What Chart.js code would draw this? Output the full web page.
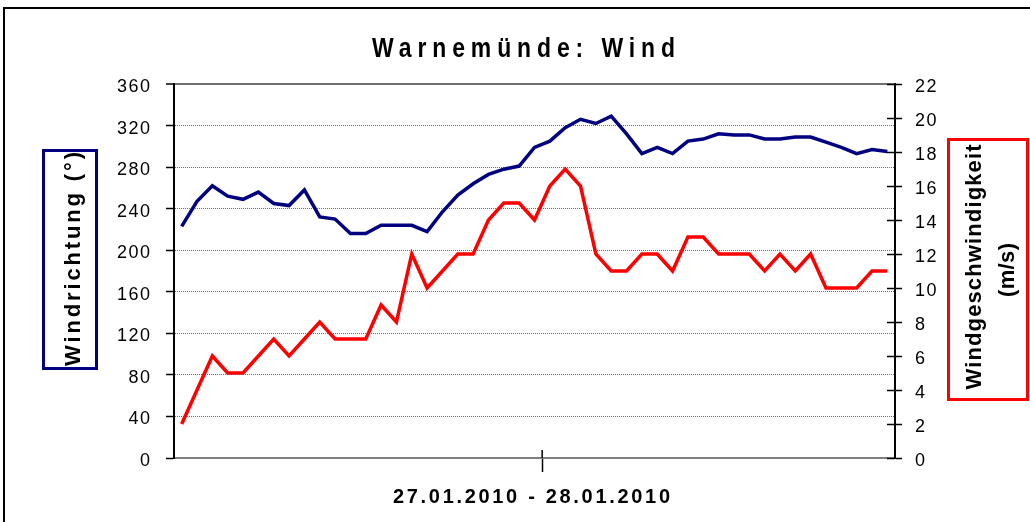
<!DOCTYPE html>
<html>
<head>
<meta charset="utf-8">
<title>Warnemünde: Wind</title>
<script src="https://cdn.jsdelivr.net/npm/chart.js@4.4.1/dist/chart.umd.min.js"></script>
<style>
    html, body { margin: 0; padding: 0; background: #ffffff; }
</style>
</head>
<body>
<canvas id="windChart" width="1030" height="522"></canvas>
<script>
// hourly readings, 27.01.2010 00:00 - 28.01.2010 22:00
const hourLabels = [
    '27.01. 00:00', '27.01. 01:00', '27.01. 02:00', '27.01. 03:00', '27.01. 04:00', '27.01. 05:00',
    '27.01. 06:00', '27.01. 07:00', '27.01. 08:00', '27.01. 09:00', '27.01. 10:00', '27.01. 11:00',
    '27.01. 12:00', '27.01. 13:00', '27.01. 14:00', '27.01. 15:00', '27.01. 16:00', '27.01. 17:00',
    '27.01. 18:00', '27.01. 19:00', '27.01. 20:00', '27.01. 21:00', '27.01. 22:00', '27.01. 23:00',
    '28.01. 00:00', '28.01. 01:00', '28.01. 02:00', '28.01. 03:00', '28.01. 04:00', '28.01. 05:00',
    '28.01. 06:00', '28.01. 07:00', '28.01. 08:00', '28.01. 09:00', '28.01. 10:00', '28.01. 11:00',
    '28.01. 12:00', '28.01. 13:00', '28.01. 14:00', '28.01. 15:00', '28.01. 16:00', '28.01. 17:00',
    '28.01. 18:00', '28.01. 19:00', '28.01. 20:00', '28.01. 21:00', '28.01. 22:00'
];

// Windrichtung in Grad
const directionDeg = [
    223, 247, 262, 252, 249, 256, 245, 243, 258, 232, 230, 216,
    216, 224, 224, 224, 218, 237, 253, 264, 273, 278, 281, 299,
    305, 318, 326, 322, 329, 312, 293, 299, 293, 305, 307, 312,
    311, 311, 307, 307, 309, 309, 304, 299, 293, 297, 295
];

// Windgeschwindigkeit in m/s
const speedMs = [
    2, 4, 6, 5, 5, 6, 7, 6, 7, 8, 7, 7,
    7, 9, 8, 12, 10, 11, 12, 12, 14, 15, 15, 14,
    16, 17, 16, 12, 11, 11, 12, 12, 11, 13, 13, 12,
    12, 12, 11, 12, 11, 12, 10, 10, 10, 11, 11
];

const directionAxis = [0, 360, 40];   // min, max, step
const speedAxis = [0, 22, 2];

const chartTitle = 'Warnemünde: Wind';
const xTitle = '27.01.2010 - 28.01.2010';
const leftTitle = 'Windrichtung (°)';
const rightTitle = ['Windgeschwindigkeit', '(m/s)'];

const dayBreak = hourLabels.findIndex(l => l.startsWith('28.01'));

const fontFamily = '"Liberation Sans", Arial, Helvetica, sans-serif';
Chart.defaults.font.family = fontFamily;
Chart.defaults.color = '#000000';

// text with letter spacing stretched to a given length
function spacedText(ctx, text, x, y, font, width, angle, sx, color) {
    ctx.save();
    ctx.translate(x, y);
    if (angle) ctx.rotate(angle);
    if (sx) ctx.scale(sx, 1);
    ctx.font = font;
    ctx.fillStyle = color || '#000000';
    ctx.letterSpacing = '0px';
    const natural = ctx.measureText(text).width;
    const target = width / (sx || 1);
    const gap = Math.max(0, (target - natural) / (text.length - 1));
    ctx.letterSpacing = gap + 'px';
    ctx.textAlign = 'center';
    ctx.textBaseline = 'alphabetic';
    ctx.fillText(text, gap / 2, 0);
    ctx.restore();
}

const decorations = {
    id: 'decorations',
    beforeDraw(chart) {
        // tick labels are slightly letter-spaced in the original
        chart.ctx.letterSpacing = '1.5px';
    },
    afterDraw(chart) {
        const ctx = chart.ctx;
        const xs = chart.scales.x;
        const yr = chart.scales.y1;

        ctx.save();
        ctx.letterSpacing = '0px';

        // inner halves of the crossing tick marks
        ctx.strokeStyle = '#000000';
        ctx.lineWidth = 1.5;
        yr.ticks.forEach(t => {
            const py = Math.round(yr.getPixelForValue(t.value)) + 0.5;
            ctx.beginPath();
            ctx.moveTo(yr.left - 8, py);
            ctx.lineTo(yr.left, py);
            ctx.stroke();
        });
        const bx = (xs.getPixelForValue(dayBreak - 1) + xs.getPixelForValue(dayBreak)) / 2;
        ctx.beginPath();
        ctx.moveTo(bx, xs.top - 8);
        ctx.lineTo(bx, xs.top);
        ctx.stroke();

        // outer chart frame
        ctx.lineWidth = 2;
        ctx.strokeStyle = '#000000';
        ctx.strokeRect(4, 8, chart.width + 10, chart.height + 10);

        // axis title boxes
        ctx.lineWidth = 3;
        ctx.strokeStyle = '#000080';
        ctx.strokeRect(43.5, 150.5, 53, 218);
        ctx.strokeStyle = '#ff0000';
        ctx.strokeRect(948.5, 139.5, 79, 260);
        ctx.restore();

        spacedText(ctx, chartTitle, 523.5, 57, 'bold 27px ' + fontFamily, 303, 0, 0.85);
        spacedText(ctx, xTitle, 531.5, 503, 'bold 20px ' + fontFamily, 277, 0, 0);
        spacedText(ctx, leftTitle, 80, 259, 'bold 22px ' + fontFamily, 214, -Math.PI / 2, 0);
        spacedText(ctx, rightTitle[0], 981, 267, 'bold 22px ' + fontFamily, 245, -Math.PI / 2, 0);
        spacedText(ctx, rightTitle[1], 1014, 270, 'bold 22px ' + fontFamily, 54, -Math.PI / 2, 0);
    }
};

const ctxWind = document.getElementById('windChart').getContext('2d');

const windChart = new Chart(ctxWind, {
    type: 'line',
    data: {
        labels: hourLabels,
        datasets: [{
            label: 'Windrichtung (°)',
            data: directionDeg,
            yAxisID: 'y',
            borderColor: '#000080',
            borderWidth: 3.5,
            pointRadius: 0,
            tension: 0,
            fill: false
        }, {
            label: 'Windgeschwindigkeit (m/s)',
            data: speedMs,
            yAxisID: 'y1',
            borderColor: '#ff0000',
            borderWidth: 3.5,
            pointRadius: 0,
            tension: 0,
            fill: false
        }]
    },
    options: {
        responsive: false,
        animation: false,
        devicePixelRatio: 1,
        layout: {
            padding: { top: 84, left: 0, right: 0, bottom: 0 }
        },
        scales: {
            x: {
                type: 'category',
                offset: true,
                afterFit: s => { s.height = 64; },
                grid: {
                    display: true,
                    offset: true,
                    drawOnChartArea: false,
                    tickLength: 14,
                    tickWidth: 1.5,
                    tickColor: c => c.index === dayBreak ? '#000000' : 'rgba(0,0,0,0)'
                },
                border: { display: true, color: '#808080', width: 2 },
                ticks: {
                    autoSkip: false,
                    maxRotation: 0,
                    minRotation: 0,
                    callback: () => ''
                }
            },
            y: {
                position: 'left',
                min: directionAxis[0],
                max: directionAxis[1],
                afterFit: s => { s.width = 174; },
                ticks: {
                    stepSize: directionAxis[2],
                    padding: 14.5,
                    labelOffset: 3,
                    color: '#000000',
                    font: { size: 18 }
                },
                grid: {
                    color: c => c.tick && c.tick.value === 0 ? 'rgba(0,0,0,0)' : '#707070',
                    lineWidth: c => c.tick && c.tick.value === directionAxis[1] ? 2 : 1,
                    tickLength: 8,
                    tickWidth: 1.5,
                    tickColor: '#000000'
                },
                border: {
                    color: '#000000',
                    width: 2,
                    dash: c => (c.tick && c.tick.value !== directionAxis[1]) ? [1, 1] : []
                }
            },
            y1: {
                position: 'right',
                min: speedAxis[0],
                max: speedAxis[1],
                afterFit: s => { s.width = 135; },
                ticks: {
                    stepSize: speedAxis[2],
                    padding: 13,
                    labelOffset: 3,
                    color: '#000000',
                    font: { size: 18 }
                },
                grid: {
                    drawOnChartArea: false,
                    tickLength: 7,
                    tickWidth: 1.5,
                    tickColor: '#000000'
                },
                border: { color: '#000000', width: 2 }
            }
        },
        plugins: {
            legend: { display: false },
            title: { display: false },
            tooltip: { enabled: false }
        }
    },
    plugins: [decorations]
});
</script>
</body>
</html>
